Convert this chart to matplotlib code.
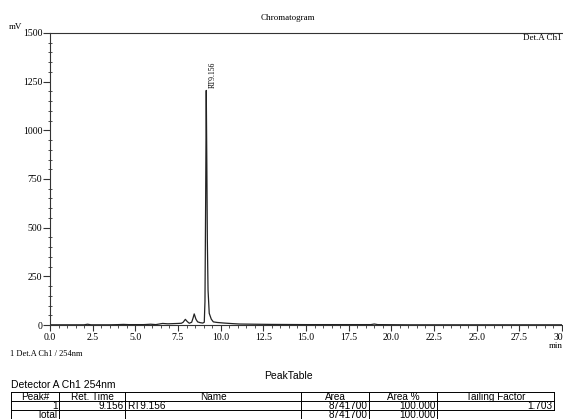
import matplotlib.pyplot as plt
from matplotlib.ticker import MultipleLocator
import numpy as np

# Trace (time in min, signal in mV)
times = [0.0, 0.5, 1.0, 1.5, 2.0, 2.2, 2.4, 3.0, 3.5, 4.0, 4.3, 4.6, 5.0, 5.5,
         5.9, 6.2, 6.6, 6.9, 7.2, 7.5, 7.7, 7.8, 7.93, 8.05, 8.16, 8.3, 8.38,
         8.45, 8.55, 8.65, 8.8, 8.95, 9.04, 9.08, 9.12, 9.156, 9.19, 9.22,
         9.26, 9.33, 9.45, 9.57, 9.8, 10.2, 10.7, 11.1, 12.0, 13.0, 15.0,
         17.0, 18.8, 19.0, 19.2, 21.0, 25.0, 30.0]
signal = [1, 1, 1, 1, 1, 4, 1, 1, 1, 2, 3, 2, 2, 2,
          4, 2, 8, 6, 7, 8, 9, 14, 29, 17, 9, 14, 35,
          57, 30, 16, 12, 10, 14, 120, 640, 1205, 820, 430,
          180, 60, 30, 16, 13, 10, 7, 5, 4, 3, 2,
          2, 2, 5, 2, 1, 1, 1]

peak_rt = 9.156
peak_label = 'RT9.156'

table_title = 'PeakTable'
table_detector = 'Detector A Ch1 254nm'
table_header = ['Peak#', 'Ret. Time', 'Name', 'Area', 'Area %', 'Tailing Factor']
table_row = ['1', '9.156', 'RT9.156', '8741700', '100.000', '1.703']
table_total = ['Total', '', '', '8741700', '100.000', '']

serif = 'Liberation Serif'
sans = 'Liberation Sans'
line_col = '#333333'

fig = plt.figure(figsize=(5.63, 4.19), dpi=100)

# Chromatogram axes
ax = fig.add_axes([50/563, 1 - 325/419, 512/563, 292/419])
ax.plot(times, signal, color='#222222', lw=0.9)
ax.set_xlim(0, 30)
ax.set_ylim(0, 1500)
ax.xaxis.set_major_locator(MultipleLocator(2.5))
ax.xaxis.set_minor_locator(MultipleLocator(0.5))
ax.yaxis.set_major_locator(MultipleLocator(250))
ax.yaxis.set_minor_locator(MultipleLocator(50))
ax.xaxis.set_major_formatter(lambda v, p: f'{v:.1f}')
ax.tick_params(axis='y', which='major', direction='out', length=5, width=0.8,
               pad=0.5, labelsize=7, colors=line_col)
ax.tick_params(axis='y', which='minor', direction='inout', length=3, width=0.6,
               colors=line_col)
ax.tick_params(axis='x', which='major', direction='out', length=4, width=0.8,
               pad=1.5, labelsize=7, colors=line_col)
ax.tick_params(axis='x', which='minor', direction='out', length=2.5, width=0.6,
               colors=line_col)
for lbl in ax.get_xticklabels() + ax.get_yticklabels():
    lbl.set_family(serif)
    lbl.set_color('black')
ax.spines['right'].set_visible(False)
for s in ['left', 'top', 'bottom']:
    ax.spines[s].set_color(line_col)
    ax.spines[s].set_linewidth(0.8)

ax.annotate(peak_label, xy=(peak_rt, max(signal)), xytext=(4.5, 2),
            textcoords='offset points', rotation=90, ha='center', va='bottom',
            fontsize=5.5, family=serif)
ax.text(1.0, 0.995, 'Det.A Ch1', transform=ax.transAxes, ha='right', va='top',
        fontsize=6.5, family=serif)

# Labels around the plot
fig.text(288/563, 1 - 18/419, 'Chromatogram', ha='center', va='center',
         fontsize=6.5, family=serif)
fig.text(9/563, 1 - 27/419, 'mV', ha='left', va='center', fontsize=6.5,
         family=serif)
fig.text(563/563, 1 - 346/419, 'min', ha='right', va='center', fontsize=6.5,
         family=serif)
fig.text(10/563, 1 - 354/419, '1 Det.A Ch1 / 254nm', ha='left', va='center',
         fontsize=6, family=serif)

# Peak table drawn in pixel coordinates
tab = fig.add_axes([0, 0, 1, 1])
tab.set_xlim(0, 563)
tab.set_ylim(419, 0)
tab.axis('off')
tab.patch.set_alpha(0)

tab.text(288, 376, table_title, ha='center', va='center', fontsize=7.5, family=sans)
tab.text(11, 385, table_detector, ha='left', va='center', fontsize=7.5, family=sans)

col_edges = [11, 59, 125, 301, 369, 437, 554]
row_edges = [392, 401, 410, 419]
lw = 0.7
for y in row_edges[:3]:
    tab.plot([col_edges[0], col_edges[-1]], [y, y], color='black', lw=lw)
tab.plot([col_edges[0], col_edges[-2]], [418.6, 418.6], color='black', lw=lw)
for i, x in enumerate(col_edges):
    y_end = row_edges[2] if i == len(col_edges) - 1 else row_edges[3]
    tab.plot([x, x], [row_edges[0], y_end], color='black', lw=lw)

aligns_row = ['right', 'right', 'left', 'right', 'right', 'right']
for j, txt in enumerate(table_header):
    xc = (col_edges[j] + col_edges[j + 1]) / 2
    tab.text(xc, 399.6, txt, ha='center', va='baseline', fontsize=7.2, family=sans)
for r, (vals, yb) in enumerate([(table_row, 408.6), (table_total, 417.6)]):
    for j, txt in enumerate(vals):
        a = aligns_row[j]
        x = col_edges[j] + 2 if a == 'left' else col_edges[j + 1] - 1.5
        tab.text(x, yb, txt, ha=a, va='baseline', fontsize=7.2, family=sans)

plt.savefig('out.png', dpi=100)
